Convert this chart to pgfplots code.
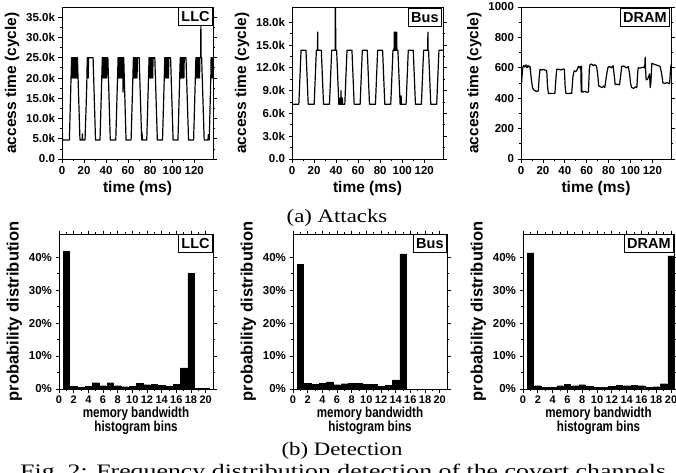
\documentclass[border=0pt]{standalone}
\usepackage{fontspec}
\setmainfont{Liberation Sans}
\newfontfamily\capfont{Liberation Serif}
\usepackage{graphicx}
\usepackage{pgfplots}
\pgfplotsset{compat=1.18}

\pgfplotsset{
  base/.style={scale only axis, axis line style={line width=0.9pt}, tick style={black, line width=0.7pt},
    major tick length=3.5pt, minor tick length=2pt, tick align=outside,
    /pgf/number format/assume math mode=true, /pgf/number format/1000 sep={}, scaled ticks=false,
    ticklabel style={font=\fontsize{11.5}{11.5}\selectfont\bfseries},
    label style={font=\fontsize{15.5}{15.5}\selectfont\bfseries},
    minor x tick num=1, minor y tick num=1},
  ts/.style={base, width=151pt, height=152pt, xmin=0, xmax=137, xtick={0,20,...,120},
    xtick pos=bottom, ytick pos=both, xlabel={time (ms)}, ylabel={access time (cycle)},
    cycle list={{black, no marks}},
    every axis plot post/.append style={line width=1.2pt, line join=round}},
  hist/.style={base, width=154pt, height=155pt, xmin=0, xmax=21, xtick={0,2,...,20},
    ymin=0, ymax=47, ytick={0,10,20,30,40}, yticklabels={0\%,10\%,20\%,30\%,40\%},
    ybar, bar width=0.88, ylabel={probability distribution},
    ylabel style={font=\fontsize{16.5}{16.5}\selectfont\bfseries},
    xticklabel style={font=\fontsize{11}{11}\selectfont\bfseries, inner xsep=0pt},
    xlabel={\scalebox{0.8}[1]{memory bandwidth}\\\scalebox{0.8}[1]{histogram bins}},
    xlabel style={align=center, font=\fontsize{14.5}{12}\selectfont\bfseries, yshift=4pt},
    cycle list={{fill=black, draw=none}}},
}
\tikzset{tag/.style={draw, line width=0.8pt, fill=white, anchor=north east, inner xsep=3pt,
    minimum height=18pt, font=\fontsize{14.5}{14.5}\selectfont\bfseries}}

\begin{document}
\begin{tikzpicture}

% ---------------- (a) Attacks ----------------
\begin{axis}[ts, at={(62pt,-159pt)}, anchor=south west, ymin=0, ymax=37500,
    ytick={0,5000,...,35000}, yticklabels={0.0,5.0k,10.0k,15.0k,20.0k,25.0k,30.0k,35.0k}]
\addplot coordinates {
(0,8800)(0.6,4700)(6.7,4700)
(8.7,25000)(9.0,20000)(9.3,25000)(9.6,20000)(9.9,25000)(10.2,20000)(10.5,25000)(10.8,20000)(11.1,25000)(11.4,20000)(11.7,25000)(12.0,20000)(12.3,25000)(12.6,20000)(12.9,25000)(13.2,20000)(13.5,25000)(13.8,20000)(14.0,25000)
(16.3,4700)(18.2,4700)(18.5,6200)(18.8,4700)(20.9,4700)
(22.3,16500)(22.6,20000)(22.9,25000)(23.2,20000)(23.5,25000)(23.8,20000)(24.1,25000)(28.2,25000)
(30.4,4700)(34.5,4700)
(36.6,25000)(37.2,25000)(37.5,20000)(37.8,25000)(38.1,20000)(38.4,25000)(38.7,20000)(39.0,25000)(39.3,20000)(39.6,25000)(39.9,20000)(40.2,25000)(40.5,20000)(40.8,25000)(41.6,25000)
(43.8,4700)(48.8,4700)
(50.9,25000)(51.2,20000)(51.5,25000)(51.8,20000)(52.1,25000)(52.4,20000)(52.7,25000)(53.0,20000)(53.3,25000)(53.6,20000)(53.9,25000)(54.2,20000)(54.5,25000)(54.8,20000)(55.1,25000)(55.4,16500)(55.7,25000)(56.0,25000)
(58.1,4700)(62.7,4700)
(64.8,25000)(65.1,20000)(65.4,25000)(65.7,20000)(66.0,25000)(66.3,20000)(66.6,25000)(66.9,20000)(67.2,25000)(67.5,20000)(67.8,25000)(68.1,20000)(68.4,25000)(70.0,25000)
(72.3,4700)(72.6,6500)(73.0,4700)(76.9,4700)
(79.0,25000)(79.3,20000)(79.6,25000)(79.9,20000)(80.2,25000)(80.5,20000)(80.8,25000)(81.1,20000)(81.4,25000)(81.7,20000)(82.0,25000)(82.3,20000)(82.6,25000)(84.2,25000)
(86.5,4700)(91.2,4700)
(93.3,25000)(93.6,20000)(93.9,25000)(94.2,20000)(94.5,25000)(94.8,20000)(95.1,25000)(95.4,20000)(95.7,25000)(96.0,20000)(96.3,25000)(96.6,20000)(96.9,25000)(98.5,25000)
(100.8,4700)(105.2,4700)
(107.3,25000)(107.6,20000)(107.9,25000)(108.2,20000)(108.5,25000)(108.8,20000)(109.1,25000)(109.4,20000)(109.7,25000)(110.0,20000)(110.3,25000)(110.6,20000)(110.9,25000)(112.5,25000)
(114.8,4700)(119.4,4700)
(121.5,25000)(121.8,20000)(122.1,25000)(122.4,20000)(122.7,25000)(123.0,20000)(123.3,25000)(123.6,20000)(123.9,25000)(124.2,20000)(124.5,25000)(124.8,20000)(125.1,25000)(125.8,25000)(126.0,33000)(126.2,25000)(126.7,25000)
(129.0,4700)(132.4,4700)(132.8,6000)(133.2,4700)(133.6,4700)
(135.0,20000)(135.3,25000)(135.6,20000)(135.9,25000)(136.2,20000)(136.5,25000)(136.8,20000)(137,25000)
};
\node[tag] at (rel axis cs:1,1) {LLC};
\end{axis}

\begin{axis}[ts, at={(292pt,-159pt)}, anchor=south west, ymin=0, ymax=20000,
    ytick={0,3000,...,18000}, yticklabels={0.0,3.0k,6.0k,9.0k,12.0k,15.0k,18.0k}]
\addplot coordinates {
(0,7200)(6.2,7200)(8.2,14300)(12.7,14300)(14.7,7200)
(20.1,7200)(22.1,14300)(23.1,14300)(23.3,16700)(23.5,14300)(26.6,14300)(28.6,7200)
(34.0,7200)(36.0,14300)(39.1,14300)(39.3,20000)(39.4,14300)(39.5,20000)(39.7,14300)(40.5,14300)(42.5,7200)
(43.3,7200)(43.5,8000)(43.7,7200)(44.3,7200)(44.5,9000)(44.7,7200)(45.5,7200)(45.7,8000)(45.9,7200)
(47.9,7200)(49.9,14300)(54.4,14300)(56.4,7200)
(61.8,7200)(63.8,14300)(68.3,14300)(70.3,7200)
(75.7,7200)(77.7,14300)(82.2,14300)(84.2,7200)
(89.6,7200)(91.6,14300)(92.6,14300)(92.8,16700)(93.0,14300)(93.6,14300)(93.8,16700)(94.0,14300)(94.8,14300)(95.0,16700)(95.2,14300)(96.1,14300)(98.1,7200)
(98.8,7200)(99.0,8300)(99.2,7200)
(103.5,7200)(105.5,14300)(110.0,14300)(112.0,7200)
(117.4,7200)(119.4,14300)(123.1,14300)(123.3,16700)(123.5,14300)(123.9,14300)(125.9,7200)
(131.3,7200)(133.3,14300)(137,14300)
};
\node[tag, xshift=-1pt, yshift=-1pt] at (rel axis cs:1,1) {Bus};
\end{axis}

\begin{axis}[ts, at={(521pt,-159pt)}, anchor=south west, width=150pt, ymin=0, ymax=1000,
    ytick={0,200,...,1000}]
\addplot coordinates {
(0,490)(0.5,500)(1.5,600)(2.5,615)(3.5,605)(4.5,620)(5.5,600)(6.5,615)(7.5,605)(8.2,610)
(9.5,520)(10.5,470)(11.5,455)(12.8,450)(14.0,445)(15.8,448)(16.6,540)(17.4,590)(19,585)(20.5,590)(22,585)(23.5,580)
(24.2,480)(25,430)(27,432)(29,430)(31,433)(31.8,520)(32.6,590)(34.5,590)(36.5,585)(38.5,592)(39.6,590)
(40.3,480)(41,432)(43,430)(45,433)(46.3,432)(47.4,540)(48.5,580)(50,575)(51.5,590)(52.5,610)(53.5,600)(54.6,610)
(55.0,440)(55.3,610)(55.6,450)(56.5,440)(58.5,445)(60.5,438)(61.6,442)(62.4,590)(63,620)(64.5,625)(66,615)(67.5,620)(69,610)
(70,560)(71,480)(72.5,475)(74,470)(75.5,480)(76.5,470)(77.5,520)(78.3,560)(79.3,600)(80.8,610)(82.5,600)(84,615)
(85,560)(86,490)(88,492)(90,488)(91.2,560)(92,610)(94,612)(96,600)(98,608)
(99.2,560)(100,500)(101,470)(103,465)(104.5,475)(105.8,470)(106.5,560)(107,600)(109,598)(111,605)(112.5,600)
(113.1,620)(113.4,670)(113.7,600)(114.3,520)(115.5,525)(116.5,540)(117.4,560)(118,470)(118.6,500)
(119.5,630)(121,625)(123,620)(125,615)(127,610)(128.5,560)(129.6,500)(131.5,498)(133.5,502)(135.7,495)(136.3,560)(137,620)
};
\node[tag, xshift=-1pt, yshift=-1pt] at (rel axis cs:1,1) {DRAM};
\end{axis}

% ---------------- (b) Detection ----------------
\begin{axis}[hist, at={(59pt,-389pt)}, anchor=south west]
\addplot coordinates {
(1,41.8)(2,0.9)(3,0.6)(4,0.9)(5,1.9)(6,1.0)(7,1.9)(8,1.0)(9,0.7)(10,0.9)
(11,1.7)(12,1.3)(13,1.5)(14,1.2)(15,0.8)(16,1.4)(17,6.4)(18,35.0)(19,0.2)(20,0.1)
};
\node[tag] at (rel axis cs:1,1) {LLC};
\end{axis}

\begin{axis}[hist, at={(293pt,-389pt)}, anchor=south west]
\addplot coordinates {
(1,37.7)(2,1.8)(3,1.5)(4,1.7)(5,2.2)(6,1.3)(7,1.6)(8,1.8)(9,1.7)(10,1.5)
(11,1.5)(12,0.9)(13,1.2)(14,2.8)(15,41.0)(16,0)(17,0)(18,0)(19,0)(20,0)
};
\node[tag] at (rel axis cs:1,1) {Bus};
\end{axis}

\begin{axis}[hist, at={(523pt,-389pt)}, anchor=south west, width=151pt, xmax=20.4]
\addplot coordinates {
(1,41.3)(2,1.0)(3,0.6)(4,0.6)(5,1.0)(6,1.4)(7,1.0)(8,1.3)(9,0.8)(10,0.6)
(11,0.6)(12,0.9)(13,1.1)(14,1.0)(15,1.2)(16,1.0)(17,0.5)(18,0.7)(19,1.6)(20,40.4)
};
\node[tag] at (rel axis cs:1,1) {DRAM};
\end{axis}

% captions
\node[font=\capfont\fontsize{19}{19}\selectfont] at (337pt,-218pt) {\scalebox{1.2}[1]{(a) Attacks}};
\node[font=\capfont\fontsize{19}{19}\selectfont] at (342pt,-451pt) {\scalebox{1.2}[1]{(b) Detection}};
\node[anchor=base west, inner sep=0pt, font=\capfont\fontsize{19}{19}\selectfont] at (20pt,-477pt)
  {\scalebox{1.36}[1]{Fig.~2: Frequency distribution detection of the covert channels}};

\pgfresetboundingbox
\path[use as bounding box] (0,0) rectangle (676pt,-472pt);
\end{tikzpicture}
\end{document}
